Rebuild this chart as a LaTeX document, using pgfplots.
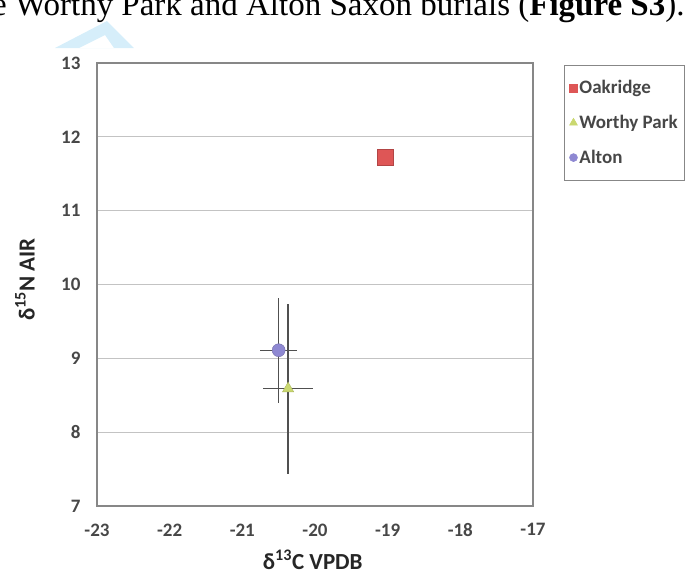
\documentclass[border=0pt]{standalone}
\usepackage{pgfplots}
\pgfplotsset{compat=1.18}
\usepackage{fontspec}
\setmainfont{Carlito}
\newfontfamily\timesfont{Liberation Serif}
\definecolor{oak}{RGB}{222,86,86}
\definecolor{wp}{RGB}{202,216,112}
\definecolor{alt}{RGB}{142,136,210}
\definecolor{barc}{RGB}{80,80,80}
\definecolor{framec}{RGB}{135,135,135}
\definecolor{gridc}{RGB}{195,195,195}
\definecolor{wm}{RGB}{214,238,250}
\begin{document}
\begin{tikzpicture}
\useasboundingbox (0pt,0pt) rectangle (690pt,-576pt);
\clip (0pt,0pt) rectangle (690pt,-576pt);
\fill[wm, even odd rule] (55pt,-48pt) -- (107pt,-21pt) -- (134pt,-48pt) -- cycle
  (79pt,-48pt) -- (105pt,-35pt) -- (114pt,-48pt) -- cycle;
\node[anchor=base west, inner sep=0pt, font=\timesfont\fontsize{33}{33}\selectfont] at (-8pt,-15pt) {e Worthy Park and Alton Saxon burials (\textbf{Figure S3}).};
\begin{axis}[
  at={(97pt,-506pt)}, anchor=south west, scale only axis,
  width=436pt, height=443pt,
  xmin=-23, xmax=-17, ymin=7, ymax=13,
  xtick={-23,-22,-21,-20,-19,-18,-17},
  ytick={7,8,9,10,11,12,13},
  ymajorgrids, grid style={gridc, line width=1pt},
  axis line style={framec, line width=1.2pt},
  major tick length=0pt,
  /pgf/number format/assume math mode=true,
  tick label style={font=\fontsize{19}{19}\selectfont\bfseries, text=black!72},
  x tick label style={yshift=-14pt},
  y tick label style={xshift=-13pt},
  xlabel={δ\textsuperscript{13}C VPDB},
  ylabel={δ\textsuperscript{15}N AIR},
  label style={font=\fontsize{23}{23}\selectfont\bfseries, text=black!85},
  xlabel style={at={(axis description cs:0.495,-0.122)}, anchor=center},
  ylabel style={at={(axis description cs:-0.165,0.511)}, anchor=center},
  legend style={at={(1,1)}, anchor=north west, xshift=31pt, yshift=-2pt,
    draw=framec, line width=1pt, font=\fontsize{19}{19}\selectfont\bfseries,
    text=black!72, row sep=16pt, inner xsep=5pt, inner ysep=13pt,
    /tikz/every even column/.append style={column sep=6pt}},
  legend cell align=left,
  legend image code/.code={\draw[#1, line width=0.5pt] plot coordinates {(3pt,0pt)};},
  error bars/error bar style={barc, line width=1.3pt},
  error bars/error mark=none,
]
\addplot[only marks, mark=square*, mark size=8pt, color=oak, draw=oak!80!black, forget plot]
  coordinates {(-19.04,11.72)};
\addplot[only marks, mark=*, mark size=6.5pt, color=alt, draw=alt!80!black, forget plot,
  error bars/.cd, x dir=both, x explicit, y dir=both, y explicit]
  coordinates {(-20.50,9.11) +- (0.25,0.71)};
\addplot[only marks, mark=triangle*, mark size=6.5pt, color=wp, draw=wp!85!black, forget plot,
  error bars/.cd, x dir=both, x explicit, y dir=both, y explicit]
  coordinates {(-20.37,8.59) +- (0.34,1.15)};
\addlegendimage{only marks, mark=square*, mark size=4pt, color=oak}
\addlegendentry{Oakridge}
\addlegendimage{only marks, mark=triangle*, mark size=4.5pt, color=wp}
\addlegendentry{Worthy Park}
\addlegendimage{only marks, mark=*, mark size=4pt, color=alt}
\addlegendentry{Alton}
\end{axis}
\end{tikzpicture}
\end{document}
